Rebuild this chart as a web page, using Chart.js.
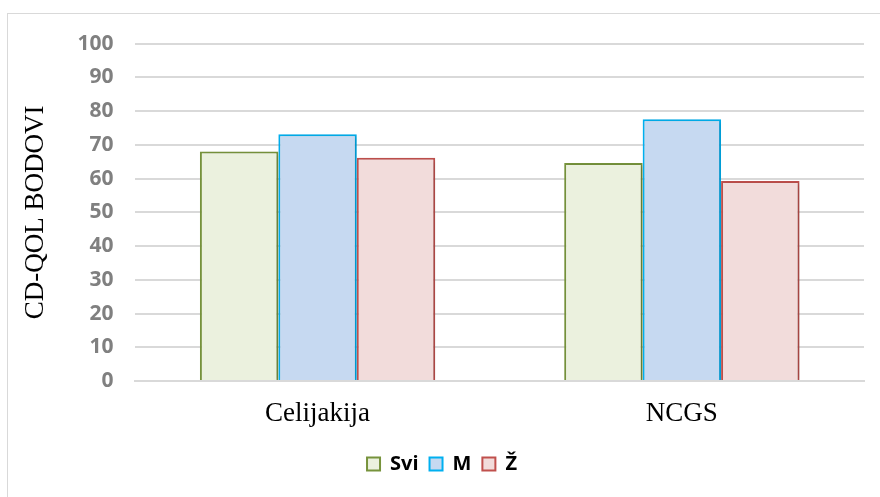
<!DOCTYPE html>
<html>
<head>
<meta charset="utf-8">
<script src="https://cdn.jsdelivr.net/npm/chart.js@4"></script>
<style>
  html, body { margin: 0; padding: 0; background: #fff; overflow: hidden; }
  #frame { position: absolute; left: 7px; top: 13px; width: 873px; height: 484px; border-left: 1px solid #d9d9d9; border-top: 1px solid #d9d9d9; }
  #wrap { position: absolute; left: 8px; top: 9px; width: 872px; height: 488px; }
  canvas { display: block; }
</style>
</head>
<body>
<div id="frame"></div>
<div id="wrap"><canvas id="chart"></canvas></div>
<script>
// Données du graphique
const categories = ['Celijakija', 'NCGS'];
const seriesNames = ['Svi', 'M', 'Ž'];
const sviValues = [68, 64.6];
const mValues = [73.1, 77.6];
const zValues = [66.2, 59.3];
const yTicks = [0, 10, 20, 30, 40, 50, 60, 70, 80, 90, 100];

// Ombre légère sous les barres
const shadowPlugin = {
  id: 'barShadow',
  beforeDatasetsDraw(chart) {
    const ctx = chart.ctx;
    ctx.save();
    ctx.shadowColor = 'rgba(0,0,0,0.18)';
    ctx.shadowBlur = 4;
    ctx.shadowOffsetX = 2;
    ctx.shadowOffsetY = 1;
  },
  afterDatasetsDraw(chart) {
    chart.ctx.restore();
  }
};

new Chart(document.getElementById('chart'), {
  type: 'bar',
  data: {
    labels: categories,
    datasets: [
      { label: seriesNames[0], data: sviValues, backgroundColor: '#EBF1DE', borderColor: '#77933C', borderWidth: 2 },
      { label: seriesNames[1], data: mValues, backgroundColor: '#C6D9F1', borderColor: '#00B0F0', borderWidth: 2 },
      { label: seriesNames[2], data: zValues, backgroundColor: '#F2DCDB', borderColor: '#C0504D', borderWidth: 2 }
    ]
  },
  options: {
    responsive: true,
    maintainAspectRatio: false,
    animation: false,
    layout: { padding: { top: 0, right: 16, left: 12, bottom: 13 } },
    datasets: { bar: { categoryPercentage: 0.646, barPercentage: 1.0 } },
    plugins: {
      legend: {
        position: 'bottom',
        labels: {
          boxWidth: 13,
          boxHeight: 13,
          padding: 11,
          color: '#000',
          font: { family: 'Open Sans', size: 20, weight: 'bold' }
        }
      },
      tooltip: { enabled: false }
    },
    scales: {
      x: {
        grid: { display: false },
        border: { color: '#d9d9d9', width: 2 },
        ticks: { color: '#000', padding: 9, font: { family: 'Liberation Serif', size: 27 } },
        afterFit(axis) { axis.height = 62; }
      },
      y: {
        min: 0,
        max: 100,
        afterBuildTicks(axis) { axis.ticks = yTicks.map(v => ({ value: v })); },
        grid: { color: '#d9d9d9', lineWidth: 2, drawTicks: false },
        border: { display: false },
        ticks: { color: '#808080', padding: 22, font: { family: 'Open Sans', size: 21, weight: 'bold' } },
        title: {
          display: true,
          text: 'CD-QOL BODOVI',
          color: '#000',
          padding: { top: 0, bottom: 3 },
          font: { family: 'Liberation Serif', size: 27 }
        }
      }
    }
  },
  plugins: [shadowPlugin]
});
</script>
</body>
</html>
